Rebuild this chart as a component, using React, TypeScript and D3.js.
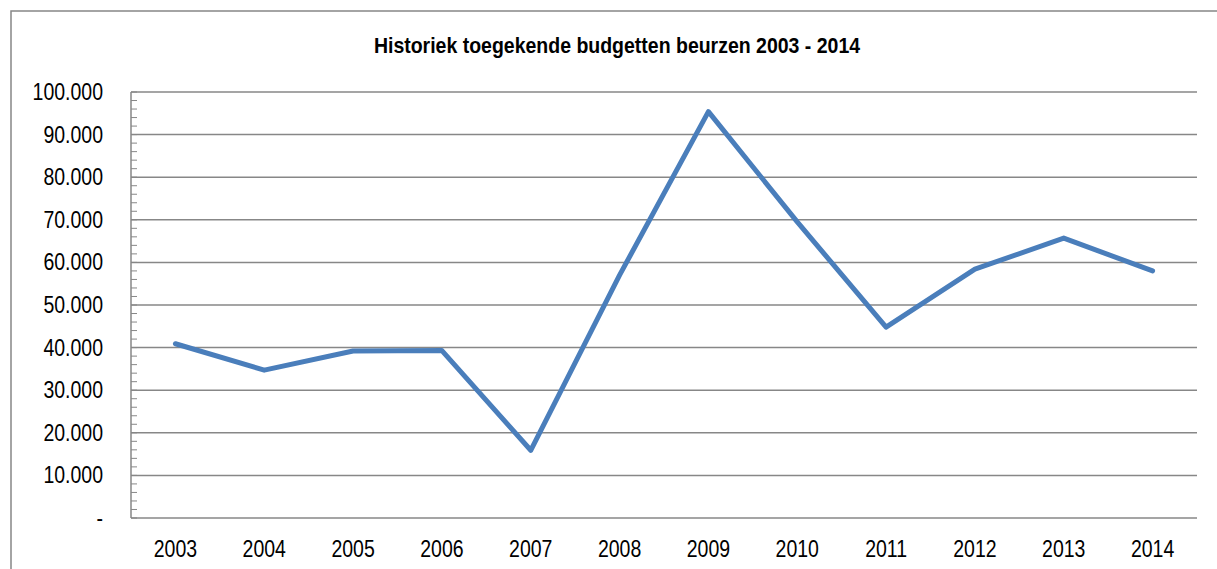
import React from "react";
import * as d3 from "d3";

const years = ["2003", "2004", "2005", "2006", "2007", "2008", "2009", "2010", "2011", "2012", "2013", "2014"];
const budgets = [40900, 34700, 39200, 39300, 15900, 57000, 95400, 69500, 44800, 58400, 65700, 58000];
const yTicks = [0, 10000, 20000, 30000, 40000, 50000, 60000, 70000, 80000, 90000, 100000];
const title = "Historiek toegekende budgetten beurzen 2003 - 2014";

const W = 1217;
const H = 569;
const margin = { top: 92, right: 20, bottom: 51, left: 131 };

// 100.000 style, zero shown as "-"
const fmt = (v: number) => (v === 0 ? "-" : d3.format(",")(v).replace(/,/g, "."));

// text in the source is a bit taller than Arial, stretch vertically
const stretch = 1.18;

export default function App() {
  const x = d3
    .scaleBand()
    .domain(years)
    .range([margin.left, W - margin.right]);
  const y = d3
    .scaleLinear()
    .domain([0, 100000])
    .range([H - margin.bottom, margin.top]);

  const minor = d3.range(0, 100001, 2000);

  const line = d3
    .line<number>()
    .x((_, i) => x(years[i])! + x.bandwidth() / 2)
    .y((d) => y(d));

  const grid = "#878787";
  const font = "'Liberation Sans', Arial, sans-serif";

  return (
    <svg
      width={W}
      height={H}
      style={{ position: "absolute", left: 0, top: 0, background: "#fff" }}
    >
      {/* outer chart border */}
      <rect x={11} y={11} width={W + 20} height={H + 20} fill="none" stroke={grid} strokeWidth={1.5} />

      <text
        transform={`translate(617,52.5) scale(1,1.12)`}
        textAnchor="middle"
        fontFamily={font}
        fontWeight="bold"
        fontSize={19.5}
        fill="#000"
      >
        {title}
      </text>

      {/* gridlines */}
      {yTicks.map((t) => (
        <line
          key={"g" + t}
          x1={margin.left}
          x2={W - margin.right}
          y1={y(t)}
          y2={y(t)}
          stroke={grid}
          strokeWidth={1.5}
        />
      ))}

      {/* y axis line + ticks */}
      <line x1={margin.left} x2={margin.left} y1={y(0)} y2={y(100000)} stroke={grid} strokeWidth={1.5} />
      {minor.map((t) => (
        <line
          key={"m" + t}
          x1={margin.left}
          x2={margin.left + 6}
          y1={y(t)}
          y2={y(t)}
          stroke={grid}
          strokeWidth={1}
        />
      ))}

      {yTicks.map((t) => (
        <text
          key={"l" + t}
          transform={`translate(${margin.left - 28},${y(t)}) scale(1,${stretch})`}
          dy="0.35em"
          textAnchor="end"
          fontFamily={font}
          fontSize={19.5}
          fill="#000"
        >
          {fmt(t)}
        </text>
      ))}

      {years.map((yr) => (
        <text
          key={yr}
          transform={`translate(${x(yr)! + x.bandwidth() / 2},557) scale(1,${stretch})`}
          textAnchor="middle"
          fontFamily={font}
          fontSize={19.5}
          fill="#000"
        >
          {yr}
        </text>
      ))}

      <path
        d={line(budgets) || ""}
        fill="none"
        stroke="#4a7ebb"
        strokeWidth={5}
        strokeLinejoin="round"
        strokeLinecap="round"
      />
    </svg>
  );
}
